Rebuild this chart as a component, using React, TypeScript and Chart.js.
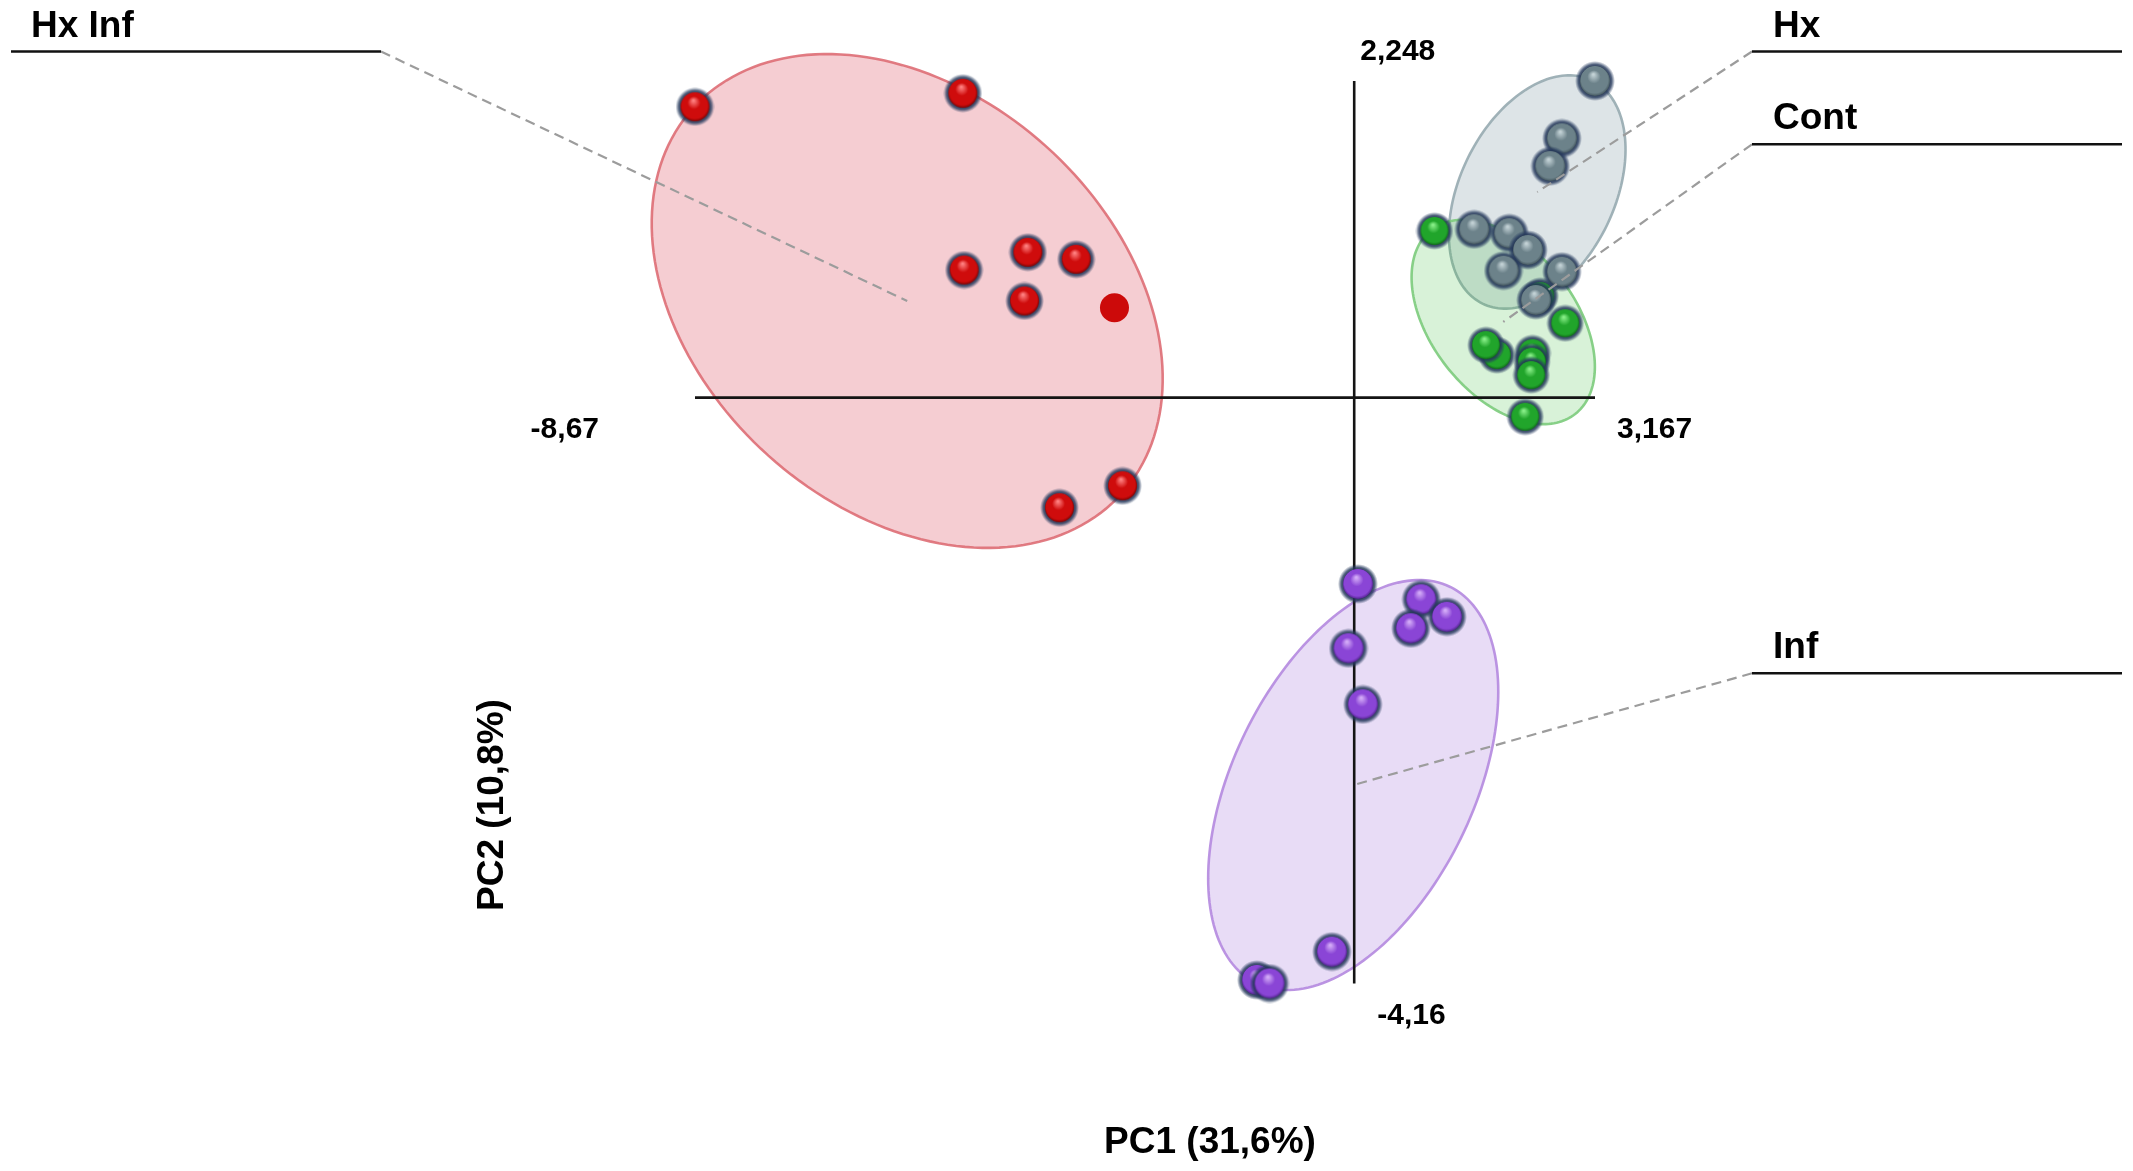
import React, { useEffect, useRef } from "react";
import { Chart, registerables } from "chart.js";

Chart.register(...registerables);

// ---------------- data (PC scores) ----------------
const groupNames = ["Hx Inf", "Hx", "Cont", "Inf"];

const hxInfPC1 = [-8.67, -5.147, -5.13, -4.292, -3.656, -4.336, -3.153, -3.047, -3.876];
const hxInfPC2 = [2.065, 2.161, 0.906, 1.032, 0.982, 0.686, 0.638, -0.626, -0.782];

const hxPC1 = [3.167, 2.732, 2.578, 1.578, 2.039, 2.285, 1.964, 2.732, 2.39];
const hxPC2 = [2.248, 1.841, 1.644, 1.195, 1.167, 1.048, 0.901, 0.894, 0.693];

const contPC1 = [1.056, 2.446, 2.775, 1.877, 1.732, 2.345, 2.337, 2.328, 2.249];
const contPC2 = [1.183, 0.721, 0.528, 0.302, 0.373, 0.315, 0.255, 0.16, -0.136];

const infPC1 = [0.049, 0.881, 1.219, 0.746, -0.075, 0.114, -0.293, -1.28, -1.114];
const infPC2 = [-1.323, -1.432, -1.556, -1.638, -1.78, -2.178, -3.934, -4.135, -4.16];

// group confidence ellipses (data units): centre and two conjugate semi-axis vectors
const ellipseCenterPC1 = [-5.879, 2.407, 1.96, -0.013];
const ellipseCenterPC2 = [0.686, 1.46, 0.537, -2.751];
const ellipseAxisA_PC1 = [2.821, 0.7192, 0.9458, 1.2764];
const ellipseAxisA_PC2 = [-1.367, 0.7924, -0.6535, 1.4066];
const ellipseAxisB_PC1 = [-1.826, 0.9119, -0.7472, 1.4178];
const ellipseAxisB_PC2 = [-1.098, -0.2411, -0.3152, -0.3748];

// axes
const pc1Range = [-8.67, 3.167];
const pc2Range = [-4.16, 2.248];
const pc1TickLabels = ["-8,67", "3,167"];
const pc2TickLabels = ["-4,16", "2,248"];
const pc1Title = "PC1 (31,6%)";
const pc2Title = "PC2 (10,8%)";

// ---------------- styles / layout ----------------
const W = 2133;
const H = 1171;
const PLOT = { left: 695, right: 1595, top: 81, bottom: 983.5 };

const GROUP_STYLE = [
  { light: "#ff8080", base: "#cf0c0c", dark: "#560000", fill: "rgba(225,100,115,0.32)", stroke: "rgba(222,110,118,0.9)", r: 16 },
  { light: "#c3d2d6", base: "#6c828a", dark: "#314249", fill: "rgba(110,140,150,0.23)", stroke: "rgba(155,174,180,0.95)", r: 16.5 },
  { light: "#88f088", base: "#21a52b", dark: "#08500f", fill: "rgba(60,190,60,0.2)", stroke: "rgba(130,205,130,0.95)", r: 15.5 },
  { light: "#d4acf8", base: "#8a45d6", dark: "#38146c", fill: "rgba(140,80,210,0.2)", stroke: "rgba(183,142,224,0.95)", r: 16.5 },
];

// label callouts: horizontal rule + text, leader line goes from anchorX to ellipse centre
const CALLOUTS = [
  { x0: 11, x1: 381, y: 51.5, textX: 31, anchorX: 381 },
  { x0: 1752, x1: 2122, y: 51.5, textX: 1773, anchorX: 1752 },
  { x0: 1752, x1: 2122, y: 144.3, textX: 1773, anchorX: 1752 },
  { x0: 1752, x1: 2122, y: 673.3, textX: 1773, anchorX: 1752 },
];

const LABEL_FONT = 'bold 37px "Liberation Sans", Arial, sans-serif';
const TICK_FONT = 'bold 30px "Liberation Sans", Arial, sans-serif';
const TITLE_FONT = 'bold 37px "Liberation Sans", Arial, sans-serif';

function makeSphere(r: number, light: string, base: string, dark: string) {
  const pad = 3.5;
  const size = Math.ceil(2 * (r + pad));
  const c = document.createElement("canvas");
  c.width = size;
  c.height = size;
  const g = c.getContext("2d")!;
  const cx = size / 2;
  const cy = size / 2;
  const halo = g.createRadialGradient(cx, cy, r - 3, cx, cy, r + pad);
  halo.addColorStop(0, "rgba(28,44,74,1)");
  halo.addColorStop(0.5, "rgba(40,60,95,0.8)");
  halo.addColorStop(1, "rgba(40,60,95,0)");
  g.fillStyle = halo;
  g.beginPath();
  g.arc(cx, cy, r + pad, 0, Math.PI * 2);
  g.fill();
  const grad = g.createRadialGradient(cx - r * 0.1, cy - r * 0.4, r * 0.04, cx, cy, r);
  grad.addColorStop(0, light);
  grad.addColorStop(0.38, base);
  grad.addColorStop(0.8, base);
  grad.addColorStop(1, dark);
  g.fillStyle = grad;
  g.beginPath();
  g.arc(cx, cy, r - 1.5, 0, Math.PI * 2);
  g.fill();
  return c;
}

const pcaPlugin = {
  id: "pcaDecor",
  beforeDatasetsDraw(chart: any) {
    const { ctx } = chart;
    const xs = chart.scales.x;
    const ys = chart.scales.y;
    // ellipses
    for (let i = 0; i < groupNames.length; i++) {
      const cx = xs.getPixelForValue(ellipseCenterPC1[i]);
      const cy = ys.getPixelForValue(ellipseCenterPC2[i]);
      const ax = xs.getPixelForValue(ellipseCenterPC1[i] + ellipseAxisA_PC1[i]) - cx;
      const ay = ys.getPixelForValue(ellipseCenterPC2[i] + ellipseAxisA_PC2[i]) - cy;
      const bx = xs.getPixelForValue(ellipseCenterPC1[i] + ellipseAxisB_PC1[i]) - cx;
      const by = ys.getPixelForValue(ellipseCenterPC2[i] + ellipseAxisB_PC2[i]) - cy;
      ctx.save();
      ctx.beginPath();
      const n = 180;
      for (let k = 0; k <= n; k++) {
        const t = (k / n) * Math.PI * 2;
        const px = cx + Math.cos(t) * ax + Math.sin(t) * bx;
        const py = cy + Math.cos(t) * ay + Math.sin(t) * by;
        if (k === 0) ctx.moveTo(px, py);
        else ctx.lineTo(px, py);
      }
      ctx.closePath();
      ctx.fillStyle = GROUP_STYLE[i].fill;
      ctx.fill();
      ctx.lineWidth = 2.6;
      ctx.strokeStyle = GROUP_STYLE[i].stroke;
      ctx.stroke();
      ctx.restore();
    }
    // cross axes through origin
    const x0 = xs.getPixelForValue(0);
    const y0 = ys.getPixelForValue(0);
    ctx.save();
    ctx.strokeStyle = "#141414";
    ctx.lineWidth = 2.6;
    ctx.beginPath();
    ctx.moveTo(xs.getPixelForValue(pc1Range[0]), y0);
    ctx.lineTo(xs.getPixelForValue(pc1Range[1]), y0);
    ctx.moveTo(x0, ys.getPixelForValue(pc2Range[1]));
    ctx.lineTo(x0, ys.getPixelForValue(pc2Range[0]));
    ctx.stroke();
    ctx.restore();
  },
  afterDatasetsDraw(chart: any) {
    const { ctx } = chart;
    const xs = chart.scales.x;
    const ys = chart.scales.y;
    // leaders
    ctx.save();
    ctx.strokeStyle = "#9c9c9c";
    ctx.lineWidth = 2.2;
    ctx.setLineDash([10, 6]);
    for (let i = 0; i < groupNames.length; i++) {
      const c = CALLOUTS[i];
      ctx.beginPath();
      ctx.moveTo(c.anchorX, c.y);
      ctx.lineTo(xs.getPixelForValue(ellipseCenterPC1[i]), ys.getPixelForValue(ellipseCenterPC2[i]));
      ctx.stroke();
    }
    ctx.restore();
    // callout rules + labels
    ctx.save();
    ctx.strokeStyle = "#111";
    ctx.lineWidth = 2.6;
    ctx.fillStyle = "#000";
    ctx.font = LABEL_FONT;
    ctx.textBaseline = "alphabetic";
    ctx.textAlign = "left";
    for (let i = 0; i < groupNames.length; i++) {
      const c = CALLOUTS[i];
      ctx.beginPath();
      ctx.moveTo(c.x0, c.y);
      ctx.lineTo(c.x1, c.y);
      ctx.stroke();
      ctx.fillText(groupNames[i], c.textX, c.y - 15);
    }
    ctx.restore();
    // tick labels at axis ends
    const x0 = xs.getPixelForValue(0);
    const y0 = ys.getPixelForValue(0);
    ctx.save();
    ctx.fillStyle = "#000";
    ctx.font = TICK_FONT;
    ctx.textBaseline = "middle";
    ctx.textAlign = "right";
    ctx.fillText(pc1TickLabels[0], xs.getPixelForValue(pc1Range[0]) - 96, y0 + 32);
    ctx.textAlign = "left";
    ctx.fillText(pc1TickLabels[1], xs.getPixelForValue(pc1Range[1]) + 22, y0 + 32);
    ctx.fillText(pc2TickLabels[1], x0 + 6, ys.getPixelForValue(pc2Range[1]) - 29);
    ctx.fillText(pc2TickLabels[0], x0 + 23, ys.getPixelForValue(pc2Range[0]) + 32);
    ctx.restore();
    // axis titles
    ctx.save();
    ctx.fillStyle = "#000";
    ctx.font = TITLE_FONT;
    ctx.textAlign = "center";
    ctx.textBaseline = "middle";
    ctx.fillText(pc1Title, 1210, 1143);
    ctx.translate(493, 805);
    ctx.rotate(-Math.PI / 2);
    ctx.fillText(pc2Title, 0, 0);
    ctx.restore();
  },
};

export default function App() {
  const ref = useRef<HTMLCanvasElement | null>(null);

  useEffect(() => {
    if (!ref.current) return;
    const spheres = GROUP_STYLE.map((s) => makeSphere(s.r, s.light, s.base, s.dark));
    const series = [
      [hxInfPC1, hxInfPC2],
      [hxPC1, hxPC2],
      [contPC1, contPC2],
      [infPC1, infPC2],
    ];
    const datasets = series.map(([xs, ys], i) => ({
      label: groupNames[i],
      data: xs.map((x, k) => ({ x, y: ys[k] })),
      clip: false as any,
      pointRadius: i === 0 ? xs.map((_, k) => (k === 6 ? 14.5 : GROUP_STYLE[0].r)) : GROUP_STYLE[i].r,
      pointStyle:
        i === 0
          ? xs.map((_, k) => (k === 6 ? "circle" : spheres[0]))
          : spheres[i],
      backgroundColor: i === 0 ? "#cc0a0a" : GROUP_STYLE[i].base,
      borderWidth: 0,
      borderColor: "rgba(0,0,0,0)",
      showLine: false,
    }));

    const chart = new Chart(ref.current, {
      type: "scatter",
      data: { datasets: datasets as any },
      options: {
        animation: false,
        responsive: false,
        devicePixelRatio: 1,
        events: [],
        layout: {
          padding: {
            left: PLOT.left,
            right: W - PLOT.right,
            top: PLOT.top,
            bottom: H - PLOT.bottom,
          },
        },
        plugins: { legend: { display: false }, tooltip: { enabled: false } },
        scales: {
          x: { type: "linear", min: pc1Range[0], max: pc1Range[1], display: false },
          y: { type: "linear", min: pc2Range[0], max: pc2Range[1], display: false },
        },
      } as any,
      plugins: [pcaPlugin],
    });
    return () => chart.destroy();
  }, []);

  return (
    <div style={{ position: "fixed", left: 0, top: 0, width: W, height: H, background: "#fff" }}>
      <canvas ref={ref} width={W} height={H} style={{ display: "block" }} />
    </div>
  );
}
